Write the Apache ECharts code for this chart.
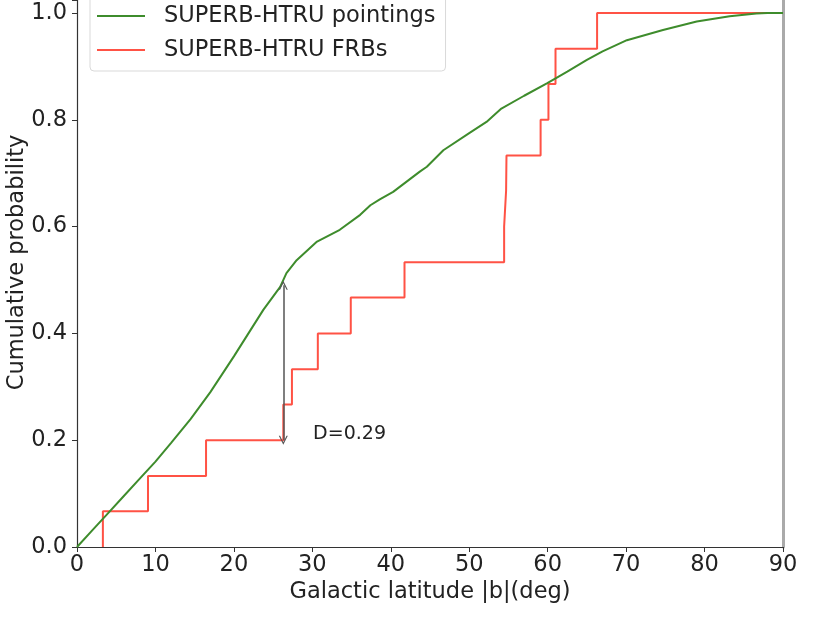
<!DOCTYPE html>
<html>
<head>
<meta charset="utf-8">
<script src="https://cdn.jsdelivr.net/npm/echarts@6/dist/echarts.min.js"></script>
<style>html,body{margin:0;padding:0;background:#fff}#c{width:823px;height:627px}</style>
</head>
<body>
<div id="c"></div>
<script>
// Pointings cumulative distribution (green)
const pointX = [0, 2, 4, 6, 8, 10, 12, 14.5, 17, 20, 23.75, 25.9, 26.7, 28, 30.6, 33.5, 36.1, 37.4, 38.6, 40.3, 43.7, 44.6, 46.7, 50, 52.2, 54.1, 57, 59.9, 62.5, 65, 67, 70.1, 74.7, 79, 83.2, 86.6, 88, 90];
const pointY = [0, 0.032, 0.064, 0.096, 0.128, 0.16, 0.195, 0.24, 0.29, 0.357, 0.444, 0.487, 0.513, 0.537, 0.572, 0.594, 0.622, 0.64, 0.651, 0.665, 0.703, 0.712, 0.743, 0.775, 0.796, 0.821, 0.845, 0.868, 0.89, 0.912, 0.928, 0.949, 0.968, 0.984, 0.994, 0.999, 1.0, 1.0];
// FRB empirical CDF (red step)
const frbX = [3.3, 3.3, 9.05, 16.45, 26.3, 27.4, 30.7, 34.9, 41.75, 54.45, 54.7, 54.75, 59.1, 60.1, 61.0, 66.3, 90];
const frbY = [0, 0.067, 0.133, 0.2, 0.267, 0.333, 0.4, 0.467, 0.533, 0.6, 0.667, 0.733, 0.8, 0.867, 0.933, 1.0, 1.0];
// KS annotation
const dX = 26.3, dLow = 0.2, dHigh = 0.49;
const dLabel = 'D=0.29', dLabelPos = [30.1, 0.212];
const xTicksInterval = 10, yTicksInterval = 0.2;
const seriesNames = ['SUPERB-HTRU pointings', 'SUPERB-HTRU FRBs'];

const FONT = 'DejaVu Sans';
const FS = 22.5;
const YMAX = 1.0243;
const chart = echarts.init(document.getElementById('c'), null, {renderer: 'canvas'});
const zip = (a, b) => a.map((v, i) => [v, b[i]]);
const chevron = 'path://M5,0 L10,10 L8.6,10 L5,2.8 L1.4,10 L0,10 Z';

chart.setOption({
  animation: false,
  backgroundColor: '#fff',
  textStyle: {fontFamily: FONT},
  grid: {left: 77, right: 40, top: 0, bottom: 80, containLabel: false, outerBoundsMode: 'none'},
  legend: {
    orient: 'vertical', left: 90, top: -8,
    icon: 'rect', itemWidth: 48, itemHeight: 2, itemGap: 10,
    padding: [12, 10, 9, 7],
    backgroundColor: '#fff', borderColor: '#d9d9d9', borderWidth: 1, borderRadius: 4,
    textStyle: {fontSize: FS, color: '#222', fontFamily: FONT, padding: [0, 0, 0, 14], lineHeight: 24},
    data: seriesNames
  },
  xAxis: {
    type: 'value', min: 0, max: 90, interval: xTicksInterval,
    name: 'Galactic latitude |b|(deg)', nameLocation: 'middle', nameGap: 34, nameMoveOverlap: false,
    nameTextStyle: {fontSize: FS, color: '#222', fontFamily: FONT},
    axisLine: {show: true, onZero: false, lineStyle: {color: '#333', width: 1.2}},
    axisTick: {show: true, length: 5, lineStyle: {color: '#333'}},
    axisLabel: {fontSize: FS, color: '#222', margin: 7, fontFamily: FONT},
    splitLine: {show: false}
  },
  yAxis: [{
    type: 'value', min: 0, max: YMAX, interval: yTicksInterval,
    name: 'Cumulative probability', nameLocation: 'middle', nameGap: 48, nameMoveOverlap: false,
    nameTextStyle: {fontSize: FS, color: '#222', fontFamily: FONT, padding: [0, 0, 0, 22]},
    axisLine: {show: true, onZero: false, lineStyle: {color: '#333', width: 1.2}},
    axisTick: {show: true, length: 5, lineStyle: {color: '#333'}},
    axisLabel: {fontSize: FS, color: '#222', margin: 10, fontFamily: FONT,
      formatter: v => v > 1.001 ? '' : v.toFixed(1)},
    splitLine: {show: false}
  }, {
    type: 'value', min: 0, max: YMAX, position: 'right',
    axisLine: {show: true, onZero: false, lineStyle: {color: '#aaaaaa', width: 3}},
    axisTick: {show: false}, axisLabel: {show: false}, splitLine: {show: false}
  }],
  series: [{
    name: seriesNames[0], type: 'line', symbol: 'none', smooth: false,
    data: zip(pointX, pointY),
    lineStyle: {color: '#3e8c2c', width: 2},
    itemStyle: {color: '#3e8c2c'},
    z: 3
  }, {
    name: seriesNames[1], type: 'line', symbol: 'none', step: 'end',
    data: zip(frbX, frbY),
    lineStyle: {color: '#ff5245', width: 2},
    itemStyle: {color: '#ff5245'},
    z: 2,
    markLine: {
      silent: true, animation: false,
      symbol: [chevron, chevron], symbolSize: [9, 9],
      label: {show: false},
      lineStyle: {color: '#555', width: 1.5, type: 'solid'},
      data: [[{coord: [dX, dLow]}, {coord: [dX, dHigh]}]]
    },
    markPoint: {
      silent: true, animation: false,
      data: [{coord: dLabelPos, symbolSize: 0,
        label: {show: true, formatter: dLabel, position: 'right', distance: 0,
          fontSize: 19, color: '#222', fontFamily: FONT}}]
    }
  }]
});
</script>
</body>
</html>
